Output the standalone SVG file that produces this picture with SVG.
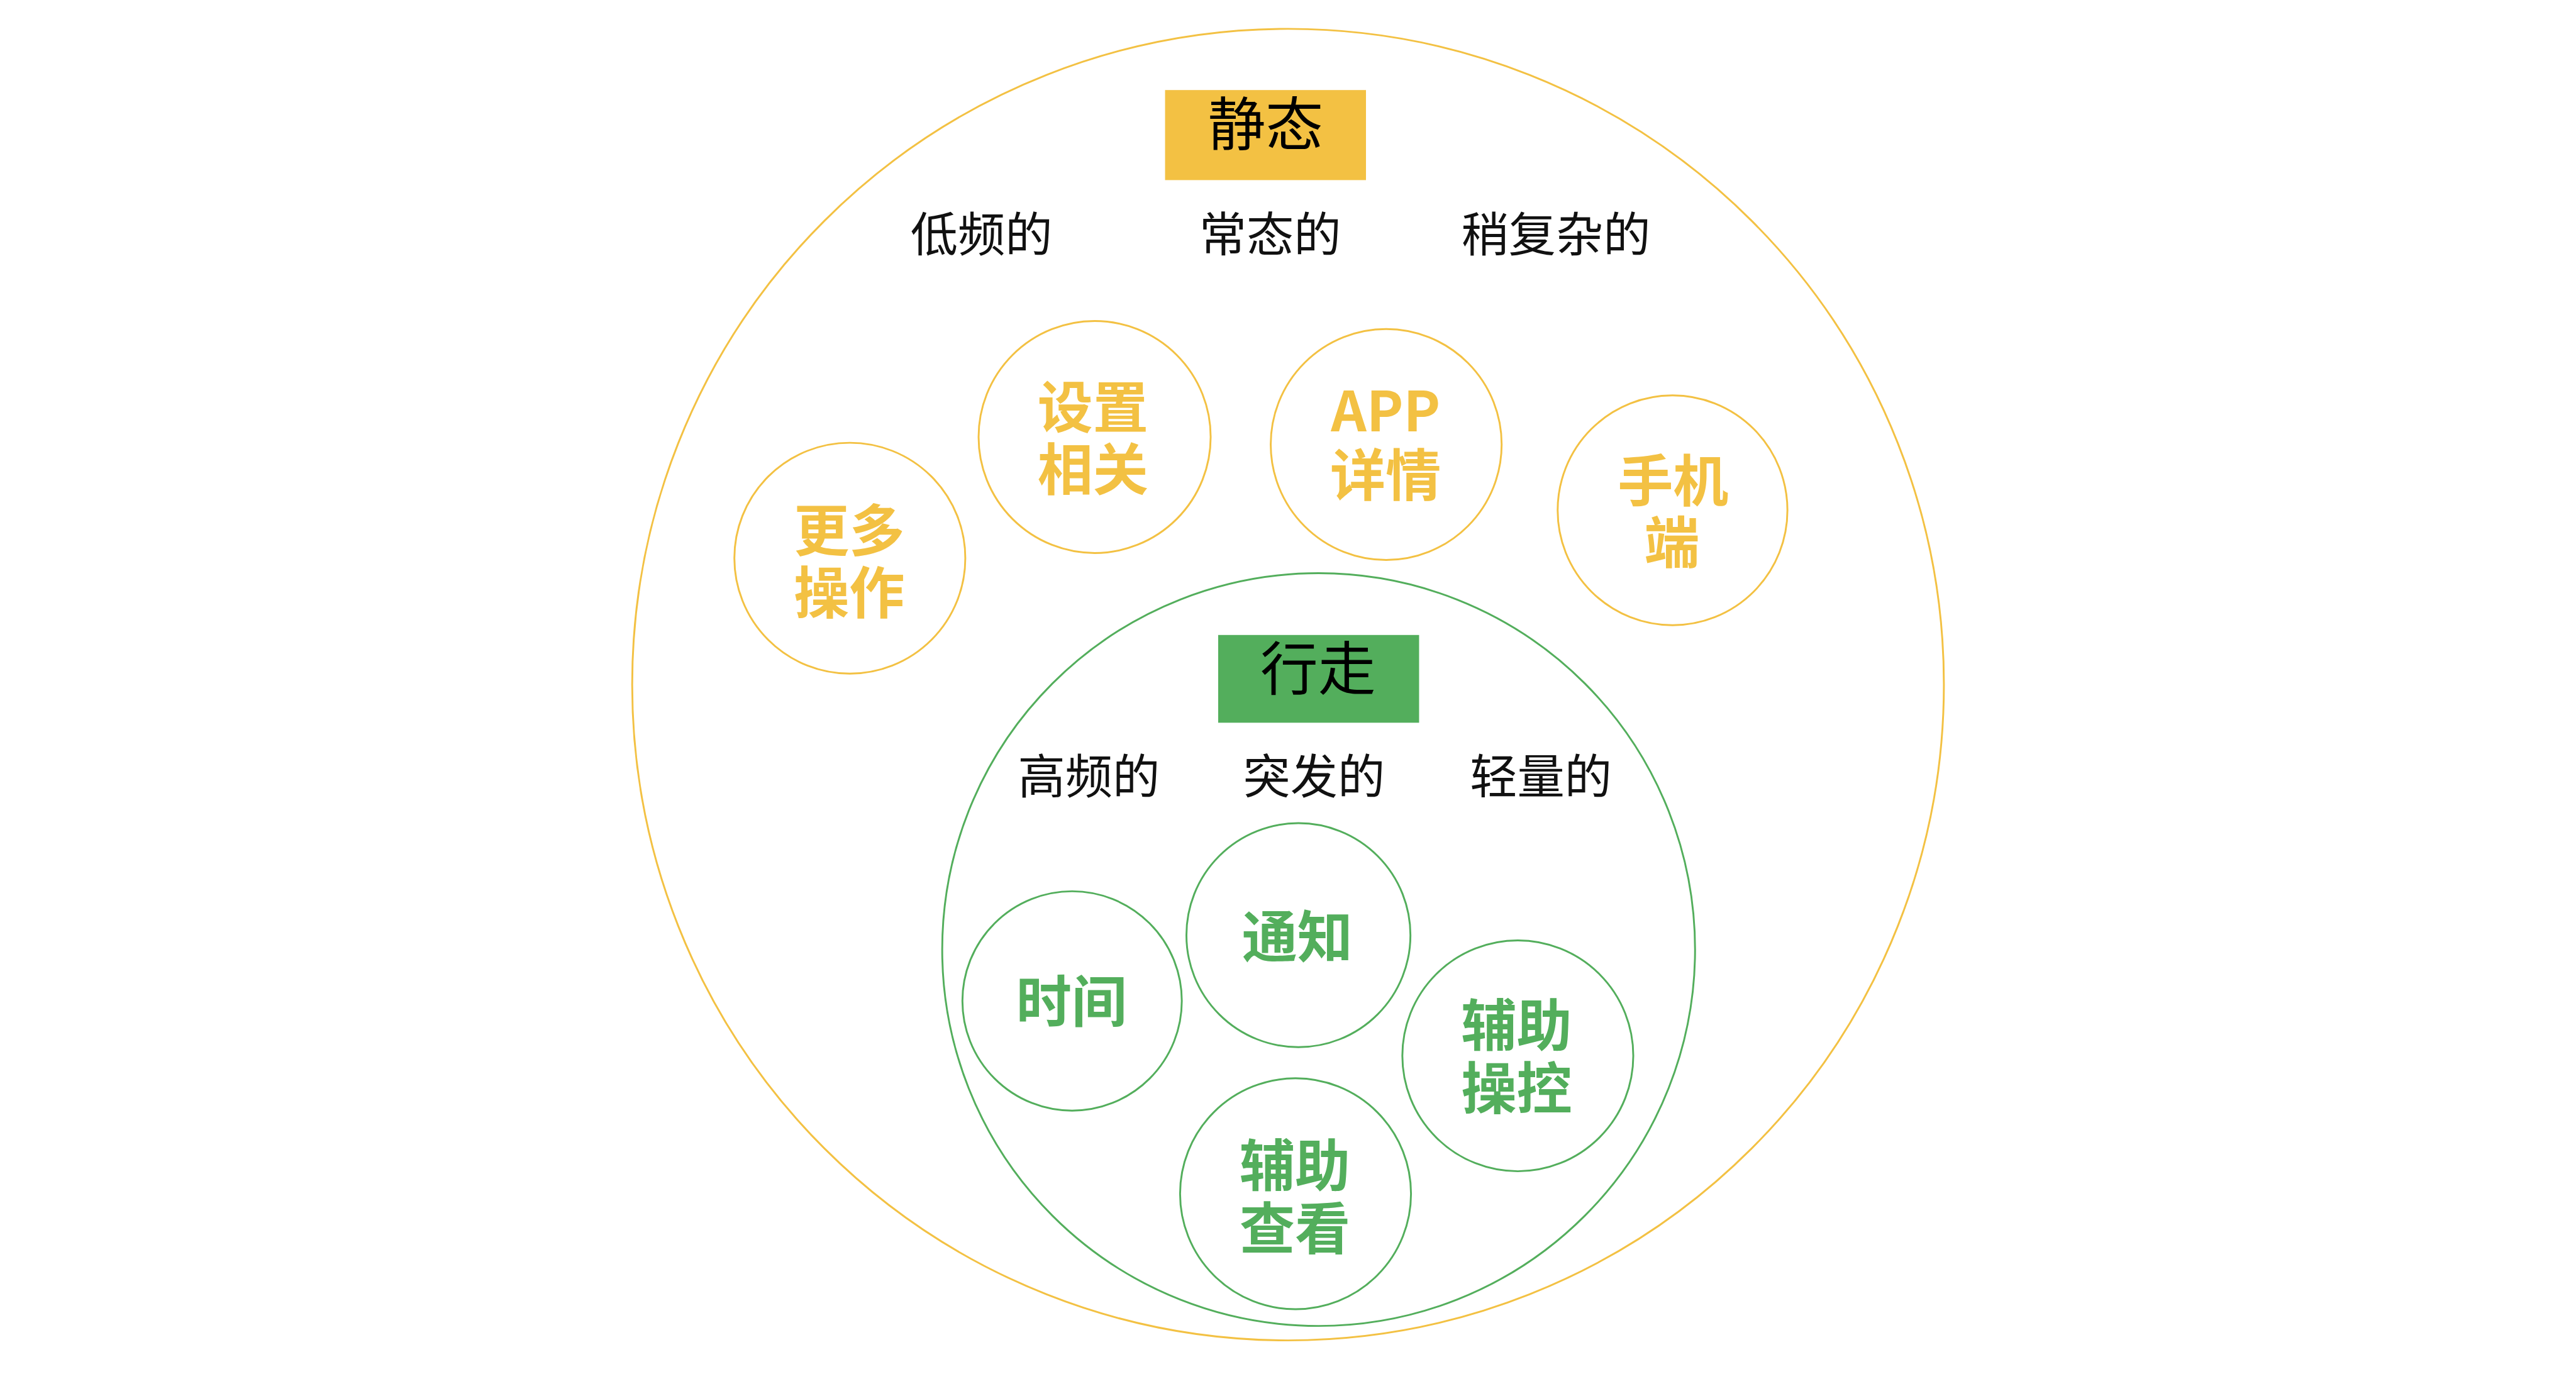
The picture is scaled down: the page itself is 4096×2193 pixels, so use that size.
<svg xmlns="http://www.w3.org/2000/svg" width="4096" height="2193" viewBox="0 0 4096 2193">
<style>
.ring-y{fill:none;stroke:#F3C143;stroke-width:3.2}
.ring-g{fill:none;stroke:#53AE5C;stroke-width:3.2}
.head{font-family:"Noto Sans CJK SC","Noto Sans",sans-serif;font-size:100px;fill:#000;text-anchor:middle}
.sub{font-family:"Noto Sans CJK SC","Noto Sans",sans-serif;font-size:82px;fill:#111;text-anchor:middle}
.lab-y{font-family:"Noto Sans CJK SC","Noto Sans",sans-serif;font-size:96px;font-weight:bold;fill:#F3C143;text-anchor:middle}
.lab-g{font-family:"Noto Sans CJK SC","Noto Sans",sans-serif;font-size:96px;font-weight:bold;fill:#53AE5C;text-anchor:middle}
</style>
<rect width="4096" height="2193" fill="#fff"/>
<g transform="scale(0.918)">
  <g id="static">
    <circle class="ring-y" cx="2231" cy="1186" r="1136"/>
    <rect x="2018" y="156" width="348" height="156" fill="#F3C143"/>
    <text class="head" x="2192" y="252">静态</text>
    <text class="sub" x="1700" y="436">低频的</text>
    <text class="sub" x="2200" y="436">常态的</text>
    <text class="sub" x="2695" y="436">稍复杂的</text>
  </g>
  <g id="more-ops">
    <circle class="ring-y" cx="1472" cy="967" r="200"/>
    <text class="lab-y" x="1471"><tspan x="1471" y="954">更多</tspan><tspan x="1471" y="1062">操作</tspan></text>
  </g>
  <g id="settings">
    <circle class="ring-y" cx="1896" cy="757" r="201"/>
    <text class="lab-y" x="1893"><tspan x="1893" y="741">设置</tspan><tspan x="1893" y="849">相关</tspan></text>
  </g>
  <g id="app-detail">
    <circle class="ring-y" cx="2401" cy="770" r="200"/>
    <text class="lab-y" x="2400"><tspan x="2400" y="747">APP</tspan><tspan x="2400" y="858">详情</tspan></text>
  </g>
  <g id="phone">
    <circle class="ring-y" cx="2897" cy="884" r="199"/>
    <text class="lab-y" x="2898"><tspan x="2898" y="868">手机</tspan><tspan x="2896" y="975">端</tspan></text>
  </g>
  <g id="walking">
    <circle class="ring-g" cx="2284" cy="1645" r="652"/>
    <rect x="2110" y="1100" width="348" height="152" fill="#53AE5C"/>
    <text class="head" x="2283" y="1195">行走</text>
    <text class="sub" x="1886" y="1375">高频的</text>
    <text class="sub" x="2276" y="1375">突发的</text>
    <text class="sub" x="2669" y="1375">轻量的</text>
  </g>
  <g id="time">
    <circle class="ring-g" cx="1857" cy="1734" r="190"/>
    <text class="lab-g" x="1856" y="1770">时间</text>
  </g>
  <g id="notify">
    <circle class="ring-g" cx="2249" cy="1620" r="194"/>
    <text class="lab-g" x="2247" y="1658">通知</text>
  </g>
  <g id="assist-control">
    <circle class="ring-g" cx="2629" cy="1829" r="200"/>
    <text class="lab-g" x="2627"><tspan x="2627" y="1812">辅助</tspan><tspan x="2627" y="1920">操控</tspan></text>
  </g>
  <g id="assist-view">
    <circle class="ring-g" cx="2244" cy="2068" r="200"/>
    <text class="lab-g" x="2243"><tspan x="2243" y="2055">辅助</tspan><tspan x="2243" y="2163">查看</tspan></text>
  </g>
</g>
</svg>
